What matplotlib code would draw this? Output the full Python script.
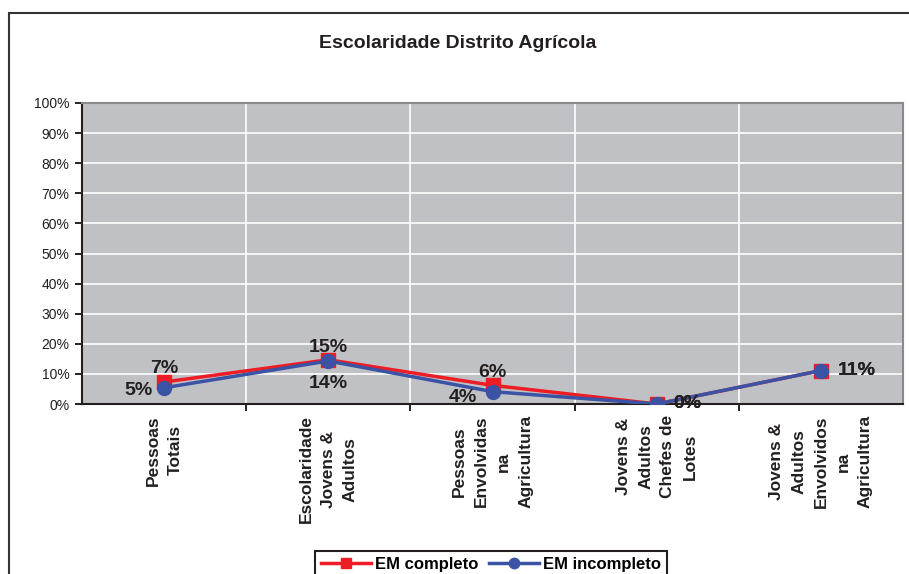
from matplotlib import pyplot as plt
from matplotlib.patches import Rectangle

plt.rcParams['font.family'] = ['Liberation Sans', 'DejaVu Sans']

# data
categories = ['Pessoas\nTotais',
              'Escolaridade\nJovens &\nAdultos',
              'Pessoas\nEnvolvidas\nna\nAgricultura',
              'Jovens &\nAdultos\nChefes de\nLotes',
              'Jovens &\nAdultos\nEnvolvidos\nna\nAgricultura']
em_completo = [0.073, 0.147, 0.062, 0.0, 0.111]
em_incompleto = [0.054, 0.143, 0.041, 0.0, 0.111]
yticks = [0.0, 0.1, 0.2, 0.3, 0.4, 0.5, 0.6, 0.7, 0.8, 0.9, 1.0]

fig = plt.figure(figsize=(9.09, 5.74), dpi=100)
ax = fig.add_axes([82/909, 1 - 404/574, (903 - 82)/909, (404 - 103)/574])
ax.set_facecolor('#C0C1C4')

x = list(range(len(categories)))

# Lines
red = '#EE1C25'
blue = '#3A53A4'
ax.plot(x, em_completo, color=red, lw=2.5, marker='s', markersize=9.5,
        label='EM completo', zorder=3)
ax.plot(x, em_incompleto, color=blue, lw=2.5, marker='o', markersize=10,
        label='EM incompleto', zorder=4)

# Data labels (offsets in points)
red_off = [((0, 10), 'center'), ((0, 9), 'center'), ((0, 9), 'center'),
           ((12, 0), 'left'), ((12, 0), 'left')]
blue_off = [((-8, -2), 'right'), ((0, -16), 'center'), ((-11, -4), 'right'),
            ((12, 0), 'left'), ((12, 0), 'left')]
for vals, offs in [(em_completo, red_off), (em_incompleto, blue_off)]:
    for i, v in enumerate(vals):
        ax.annotate(f'{round(v * 100):.0f}%', (i, v), xytext=offs[i][0],
                    textcoords='offset points', ha=offs[i][1], va='center',
                    fontsize=14, fontweight='bold', color='#231F20', zorder=5)

# Axes
ax.set_xlim(-0.5, 4.5)
ax.set_ylim(0, 1)
ax.set_yticks(yticks)
ax.set_yticklabels([f'{int(round(t * 100))}%' for t in yticks], fontsize=10,
                   color='#231F20')
ax.tick_params(axis='y', direction='out', length=5, width=1.2, pad=4)
ax.set_xticks(x)
ax.set_xticklabels(categories, rotation=90, fontsize=12.5, fontweight='bold',
                   multialignment='center', linespacing=1.6, color='#231F20')
ax.tick_params(axis='x', which='major', length=0, pad=8)
ax.set_xticks([0.5, 1.5, 2.5, 3.5], minor=True)
ax.tick_params(axis='x', which='minor', direction='out', length=5, width=1.2)

# Gridlines
ax.grid(axis='y', which='major', color='white', lw=1.2)
ax.grid(axis='x', which='minor', color='white', lw=1.2)
ax.set_axisbelow(True)

for s in ['left', 'bottom']:
    ax.spines[s].set_color('#231F20')
    ax.spines[s].set_linewidth(1.5)
for s in ['top', 'right']:
    ax.spines[s].set_color('#8A8A8A')
    ax.spines[s].set_linewidth(1.5)

# Title
fig.text(458/909, 1 - 44/574, 'Escolaridade Distrito Agrícola', ha='center',
         va='center', fontsize=14, fontweight='bold', color='#231F20')

# Legend
leg = fig.legend(loc='upper center', bbox_to_anchor=(491/909, 1 - 543/574),
                 ncol=2, fontsize=12, handlelength=3.0, handletextpad=0.25,
                 columnspacing=0.6, borderpad=0.35, fancybox=False,
                 edgecolor='#231F20', framealpha=1, markerscale=0.75)
leg.get_frame().set_linewidth(1.5)
for t in leg.get_texts():
    t.set_fontweight('bold')

# Outer chart border (runs past the image edge)
fig.patches.append(Rectangle((9/909, -0.1), 1.1, 1 - 13/574 + 0.1,
                             transform=fig.transFigure, fill=False,
                             edgecolor='#333333', lw=1.5))

plt.savefig('out.png', dpi=100)
